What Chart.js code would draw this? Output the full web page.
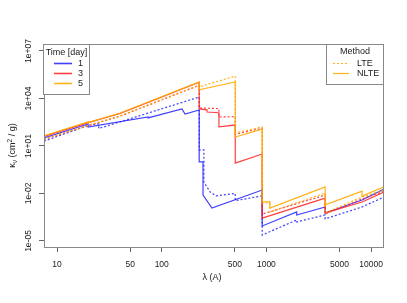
<!DOCTYPE html>
<html>
<head>
<meta charset="utf-8">
<script src="https://cdn.jsdelivr.net/npm/chart.js@4.4.1/dist/chart.umd.min.js"></script>
<style>
  html, body { margin: 0; padding: 0; background: #fff; }
  #wrap { width: 407px; height: 303px; }
</style>
</head>
<body>
<div id="wrap"><canvas id="chart" width="407" height="303"></canvas></div>
<script>
// wavelength (A) and opacity (cm^2/g); repeated wavelengths are the edges
const day5NlteLam = [7.5, 19.8, 19.8, 40, 228, 228, 504, 504, 912, 912, 1080, 1080, 3646, 3646, 8204, 8204, 13300];
const day5NlteVal = [43, 330, 300, 1200, 1.1e5, 3.5e4, 1.1e5, 37, 117, 2.9e-3, 3.1e-3, 1.2e-3, 2.6e-2, 1.9e-3, 1.4e-2, 6.9e-3, 2.6e-2];

const day5LteLam = [7.5, 19.8, 40, 228, 228, 504, 504, 912, 912, 1080, 1080, 3646, 3646, 8204, 13300];
const day5LteVal = [28, 200, 790, 7.1e4, 5.4e4, 2.6e5, 66, 160, 2.5e-3, 2.5e-3, 6.8e-4, 1.07e-2, 5.9e-4, 6.0e-3, 1.66e-2];

const day3NlteLam = [7.5, 19.8, 40, 228, 228, 271, 271, 352, 352, 504, 504, 912, 912, 3646, 3646, 8204, 13300];
const day3NlteVal = [40, 300, 1120, 1.05e5, 2200, 1900, 1400, 1260, 160, 210, 0.83, 3.1, 2.8e-4, 5.1e-3, 5.9e-4, 2.9e-3, 1.23e-2];

const day3LteLam = [7.5, 19.8, 40, 228, 228, 352, 352, 504, 504, 912, 912, 3646, 3646, 8204, 13300];
const day3LteVal = [26, 190, 760, 6.8e4, 2500, 2300, 680, 710, 56, 132, 5.0e-4, 7.9e-3, 5.0e-4, 4.5e-3, 1.4e-2];

const day1NlteLam = [7.5, 19.8, 19.8, 74, 74, 156, 167, 228, 228, 248, 248, 302, 912, 912, 1950, 1950, 3646, 3646, 8204, 13300];
const day1NlteVal = [32, 245, 158, 676, 590, 2200, 1050, 1860, 0.98, 0.98, 7.9e-3, 1.2e-3, 1.66e-2, 8.9e-5, 6.8e-4, 4.4e-4, 1.4e-3, 5.9e-4, 3.9e-3, 1.9e-2];

const day1LteLam = [7.5, 19.8, 25, 25, 228, 228, 253, 253, 290, 330, 504, 504, 912, 912, 1950, 1950, 3646, 3646, 8204, 13300];
const day1LteVal = [20, 200, 250, 126, 1.23e4, 5.6, 5.6, 5.2e-2, 1.26e-2, 7.1e-3, 1.0e-2, 3.5e-3, 7.1e-3, 2.4e-5, 2.1e-4, 1.6e-4, 4.4e-4, 2.5e-4, 1.4e-3, 6.0e-3];

const xTicks = [10, 50, 100, 500, 1000, 5000, 10000];
const yTicks = [1e-5, 1e-2, 1e1, 1e4, 1e7];
const yTickLabels = ['1e-05', '1e-02', '1e+01', '1e+04', '1e+07'];

const dayNames = ['1', '3', '5'];
const methodNames = ['LTE', 'NLTE'];

const BLUE = 'rgba(30, 30, 255, 0.85)';
const RED = 'rgba(255, 30, 30, 0.85)';
const ORANGE = 'rgba(255, 170, 0, 0.9)';
const FONT = '"Liberation Sans", Arial, Helvetica, sans-serif';

function pts(lam, val) {
    return lam.map((l, i) => ({ x: l, y: val[i] }));
}

function ds(lam, val, color, dotted) {
    return {
        data: pts(lam, val),
        borderColor: color,
        borderWidth: 1.2,
        borderDash: dotted ? [2, 2] : [],
        pointRadius: 0,
        tension: 0,
        fill: false
    };
}

// R style frame, rotated y labels, titles and the two legends
const decorations = {
    id: 'decorations',
    afterDraw(chart) {
        const ctx = chart.ctx;
        const a = chart.chartArea;
        const ys = chart.scales.y;
        ctx.save();

        ctx.strokeStyle = '#888';
        ctx.lineWidth = 1;
        ctx.strokeRect(a.left + 0.5, a.top + 0.5, a.right - a.left - 1, a.bottom - a.top);

        ctx.fillStyle = '#222';
        ctx.font = '8.5px ' + FONT;
        ctx.textAlign = 'center';
        ctx.textBaseline = 'middle';
        yTicks.forEach((v, i) => {
            const py = ys.getPixelForValue(v);
            ctx.save();
            ctx.translate(29, py);
            ctx.rotate(-Math.PI / 2);
            ctx.fillText(yTickLabels[i], 0, 0);
            ctx.restore();
        });

        // x title
        ctx.font = '9px ' + FONT;
        ctx.fillText('λ (A)', 212, 278);

        // y title: kappa_nu (cm^2 / g)
        ctx.save();
        ctx.translate(13, (a.top + a.bottom) / 2);
        ctx.rotate(-Math.PI / 2);
        const big = '9px ' + FONT, small = '6.5px ' + FONT;
        const parts = [
            { t: 'κ', f: big, dy: 0 },
            { t: 'ν', f: small, dy: 2.5 },
            { t: ' (cm', f: big, dy: 0 },
            { t: '2', f: small, dy: -3 },
            { t: ' / g)', f: big, dy: 0 }
        ];
        let total = 0;
        parts.forEach(p => { ctx.font = p.f; p.w = ctx.measureText(p.t).width; total += p.w; });
        let px = -total / 2;
        ctx.textAlign = 'left';
        parts.forEach(p => { ctx.font = p.f; ctx.fillText(p.t, px, p.dy); px += p.w; });
        ctx.restore();

        // legend: Time [day]
        ctx.fillStyle = '#fff';
        ctx.fillRect(44, 44.5, 45.5, 50);
        ctx.strokeStyle = '#888';
        ctx.strokeRect(43.5, 44.5, 46, 50);
        ctx.fillStyle = '#222';
        ctx.font = '9px ' + FONT;
        ctx.textAlign = 'center';
        ctx.fillText('Time [day]', 66.5, 52.5);
        const dayColors = [BLUE, RED, ORANGE];
        ctx.textAlign = 'left';
        dayNames.forEach((n, i) => {
            const ly = 63.5 + i * 10;
            ctx.strokeStyle = dayColors[i];
            ctx.lineWidth = 1.6;
            ctx.beginPath(); ctx.moveTo(54, ly); ctx.lineTo(72, ly); ctx.stroke();
            ctx.fillText(n, 78, ly);
        });

        // legend: Method
        ctx.fillStyle = '#fff';
        ctx.fillRect(326.5, 44.5, 57, 40);
        ctx.strokeStyle = '#888';
        ctx.lineWidth = 1;
        ctx.strokeRect(326.5, 44.5, 57, 40);
        ctx.fillStyle = '#222';
        ctx.textAlign = 'center';
        ctx.fillText('Method', 355, 51.5);
        ctx.textAlign = 'left';
        methodNames.forEach((n, i) => {
            const ly = 63.5 + i * 10;
            ctx.strokeStyle = ORANGE;
            ctx.lineWidth = 1.2;
            ctx.setLineDash(i === 0 ? [2, 2] : []);
            ctx.beginPath(); ctx.moveTo(333, ly); ctx.lineTo(349, ly); ctx.stroke();
            ctx.setLineDash([]);
            ctx.fillText(n, 357, ly);
        });

        ctx.restore();
    }
};

new Chart(document.getElementById('chart'), {
    type: 'line',
    data: {
        datasets: [
            ds(day5NlteLam, day5NlteVal, ORANGE, false),
            ds(day5LteLam, day5LteVal, ORANGE, true),
            ds(day3NlteLam, day3NlteVal, RED, false),
            ds(day3LteLam, day3LteVal, RED, true),
            ds(day1NlteLam, day1NlteVal, BLUE, false),
            ds(day1LteLam, day1LteVal, BLUE, true)
        ]
    },
    options: {
        responsive: false,
        animation: false,
        layout: { padding: { top: 44, right: 23, left: 0, bottom: 0 } },
        plugins: { legend: { display: false }, tooltip: { enabled: false } },
        scales: {
            x: {
                type: 'logarithmic',
                min: 7.5,
                max: 13300,
                afterBuildTicks: s => { s.ticks = xTicks.map(v => ({ value: v })); },
                afterFit: s => { s.height = 56; },
                grid: { drawOnChartArea: false, drawTicks: true, tickLength: 5, color: '#666' },
                border: { display: false },
                ticks: {
                    color: '#222',
                    padding: 8,
                    maxRotation: 0,
                    autoSkip: false,
                    font: { size: 8.5, family: FONT },
                    callback: v => String(v)
                }
            },
            y: {
                type: 'logarithmic',
                min: Math.pow(10, -5.38),
                max: Math.pow(10, 7.44),
                afterBuildTicks: s => { s.ticks = yTicks.map(v => ({ value: v })); },
                afterFit: s => { s.width = 44; },
                grid: { drawOnChartArea: false, drawTicks: true, tickLength: 5, color: '#666' },
                border: { display: false },
                ticks: { display: false }
            }
        }
    },
    plugins: [decorations]
});
</script>
</body>
</html>
